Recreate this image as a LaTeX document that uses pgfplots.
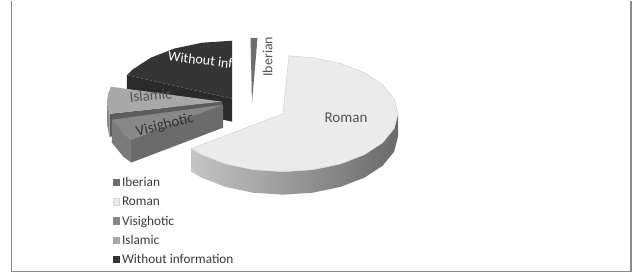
\documentclass[border=0pt]{standalone}
\usepackage{pgfplots}
\pgfplotsset{compat=1.18}
\usepackage{fontspec}
\setmainfont{Carlito}
\definecolor{framec}{HTML}{8A8A8A}
\definecolor{ibc}{HTML}{6E6E6E}
\definecolor{romtop}{HTML}{EBEBEB}
\definecolor{romedge}{HTML}{D6D6D6}
\definecolor{romsideL}{HTML}{C4C4C4}
\definecolor{romsideR}{HTML}{6A6A6A}
\definecolor{visc}{HTML}{878787}
\definecolor{viswall}{HTML}{6B6B6B}
\definecolor{visout}{HTML}{7A7A7A}
\definecolor{islc}{HTML}{A8A8A8}
\definecolor{islwall}{HTML}{5C5C5C}
\definecolor{islout}{HTML}{8C8C8C}
\definecolor{woc}{HTML}{353535}
\definecolor{wowall}{HTML}{2A2A2A}
\definecolor{legtext}{HTML}{3A3A3A}
\definecolor{labgray}{HTML}{555555}
\definecolor{visgray}{HTML}{333333}
\begin{document}
\begin{tikzpicture}
\begin{axis}[width=632pt,height=275pt,scale only axis,
  xmin=0,xmax=632,ymin=0,ymax=275,y dir=reverse,hide axis,clip=false]
\addplot[draw=none] coordinates {(0,0) (632,275)};
% frame
\addplot[color=framec, line width=1.4pt] coordinates {(11.5,0) (11.5,270.5) (631,270.5) (631,0)};
% Without information
\addplot[draw=none, fill=wowall] coordinates {(232,98) (126.9,74.4) (126.9,97.4) (232,121)} -- cycle;
\addplot[draw=none, fill=woc] coordinates {(232,98) (126.9,74.4) (132.4,69) (150.7,57) (174.5,47.8) (202.2,42) (232,40)} -- cycle;
% Iberian
\addplot[draw=none, fill=ibc] coordinates {(250.5,37) (257.5,37.5) (252,102)} -- cycle;
% Islamic
\addplot[draw=none, fill=islwall] coordinates {(222,101) (109.5,113.1) (109.5,136.1) (222,124)} -- cycle;
\addplot[draw=none, fill=islout] coordinates {(109.5,113.1) (107,101) (107,124) (109.5,136.1)} -- cycle;
\addplot[draw=none, fill=islc] coordinates {(222,101) (109.5,113.1) (107,101) (108.1,92.9) (110.9,86)} -- cycle;
% Roman
\addplot[draw=none, left color=romsideL, right color=romsideR] coordinates {(398,113) (394.1,128) (382.6,142) (364.3,154) (340.5,163.2) (312.8,169) (283,171) (253.2,169) (225.5,163.2) (201.7,154) (191.2,147.9) (191.2,170.9) (201.7,177) (225.5,186.2) (253.2,192) (283,194) (312.8,192) (340.5,186.2) (364.3,177) (382.6,165) (394.1,151) (398,136)} -- cycle;
\addplot[draw=romedge, line width=0.6pt, fill=romtop] coordinates {(283,113) (289,55.1) (312.8,57) (340.5,62.8) (364.3,72) (382.6,84) (394.1,98) (398,113) (394.1,128) (382.6,142) (364.3,154) (340.5,163.2) (312.8,169) (283,171) (253.2,169) (225.5,163.2) (201.7,154) (191.2,147.9)} -- cycle;
% Visighotic
\addplot[draw=none, fill=visout] coordinates {(131.2,138.9) (123.4,133) (111.9,119) (111.9,142) (123.4,156) (131.2,161.9)} -- cycle;
\addplot[draw=none, fill=viswall] coordinates {(223,104) (131.2,138.9) (131.2,161.9) (223,127)} -- cycle;
\addplot[draw=none, fill=visc] coordinates {(223,104) (131.2,138.9) (123.4,133) (111.9,119)} -- cycle;
% slice labels
\node[font=\fontsize{15}{18}\selectfont, text=labgray, inner sep=0pt] at (axis cs:346,117.5) {Roman};
\node[font=\fontsize{14}{17}\selectfont, text=white, rotate=-7, anchor=east, inner sep=0pt] at (axis cs:233,63) {Without inf};
\node[font=\fontsize{15}{18}\selectfont, text=labgray, rotate=5, inner sep=0pt] at (axis cs:150.5,94.5) {Islamic};
\node[font=\fontsize{15}{18}\selectfont, text=visgray, rotate=14, inner sep=0pt] at (axis cs:165,124.5) {Visighotic};
\node[font=\fontsize{14}{17}\selectfont, text=labgray, rotate=90, inner sep=0pt] at (axis cs:267.5,56) {Iberian};
% legend
\addplot[only marks, mark=square*, mark size=3.2pt, mark options={fill=ibc, draw=ibc}] coordinates {(116,181.5)};
\addplot[only marks, mark=square*, mark size=3.2pt, mark options={fill=romtop, draw=romedge}] coordinates {(116,200.8)};
\addplot[only marks, mark=square*, mark size=3.2pt, mark options={fill=visc, draw=visc}] coordinates {(116,220.1)};
\addplot[only marks, mark=square*, mark size=3.2pt, mark options={fill=islc, draw=islc}] coordinates {(116,239.4)};
\addplot[only marks, mark=square*, mark size=3.2pt, mark options={fill=woc, draw=woc}] coordinates {(116,258.7)};
\node[anchor=base west, inner sep=0pt, font=\fontsize{13.3}{16}\selectfont, text=legtext] at (axis cs:121.8,185.8) {Iberian};
\node[anchor=base west, inner sep=0pt, font=\fontsize{13.3}{16}\selectfont, text=legtext] at (axis cs:121.8,205.1) {Roman};
\node[anchor=base west, inner sep=0pt, font=\fontsize{13.3}{16}\selectfont, text=legtext] at (axis cs:121.8,224.4) {Visighotic};
\node[anchor=base west, inner sep=0pt, font=\fontsize{13.3}{16}\selectfont, text=legtext] at (axis cs:121.8,243.7) {Islamic};
\node[anchor=base west, inner sep=0pt, font=\fontsize{13.3}{16}\selectfont, text=legtext] at (axis cs:121.8,263.0) {Without information};
\end{axis}
\end{tikzpicture}
\end{document}
